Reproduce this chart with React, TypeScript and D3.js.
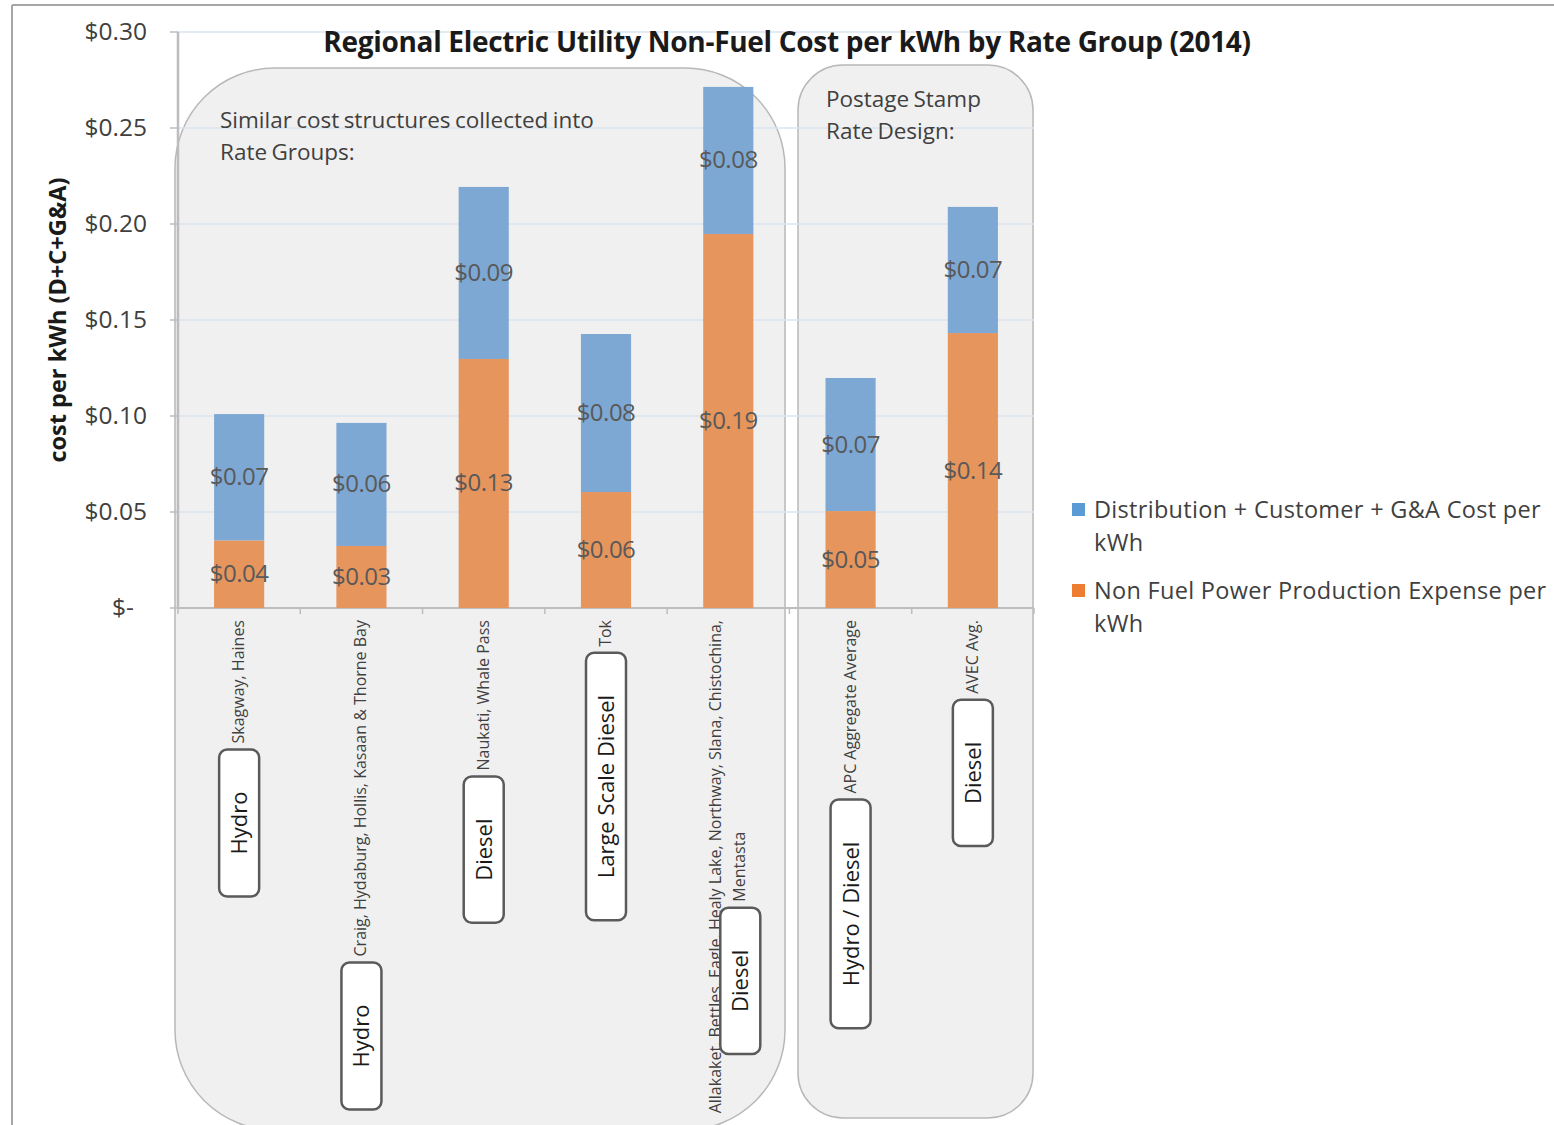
import React, { useEffect, useRef } from "react";
import * as d3 from "d3";

// Rate groups (x categories) and the two stacked cost components, $/kWh
const categories: string[][] = [
  ["Skagway, Haines"],
  ["Craig, Hydaburg, Hollis, Kasaan & Thorne Bay"],
  ["Naukati, Whale Pass"],
  ["Tok"],
  ["Allakaket, Bettles, Eagle, Healy Lake, Northway, Slana, Chistochina,", "Mentasta"],
  ["APC Aggregate Average"],
  ["AVEC Avg."],
];
const generationType = ["Hydro", "Hydro", "Diesel", "Large Scale Diesel", "Diesel", "Hydro / Diesel", "Diesel"];

const nonFuelProduction = [0.0352, 0.0323, 0.1297, 0.0604, 0.1948, 0.0505, 0.1432];
const distCustomerGA = [0.0658, 0.0641, 0.0896, 0.0823, 0.0766, 0.0693, 0.0657];

const seriesNames = ["Distribution + Customer + G&A Cost per kWh", "Non Fuel Power Production Expense per kWh"];
const yTicks = [0, 0.05, 0.1, 0.15, 0.2, 0.25, 0.3];

const FONT = "'Open Sans', 'Noto Sans', sans-serif";
const TEXT = "#404040";
const BAR_ORANGE = "#e6955d";
const BAR_BLUE = "#7ea8d4";
const LEG_BLUE = "#5b9bd5";
const LEG_ORANGE = "#ed7d31";

export default function App() {
  const ref = useRef<SVGSVGElement | null>(null);

  useEffect(() => {
    const svg = d3.select(ref.current);
    svg.selectAll("*").remove();

    const W = 1554, H = 1125;
    const plot = { left: 178, right: 1034, top: 32, bottom: 608 };

    const keys = categories.map((c) => c.join(" "));
    const x = d3.scaleBand<string>().domain(keys).range([plot.left, plot.right]).paddingInner(0.59).paddingOuter(0.295);
    const y = d3.scaleLinear().domain([0, 0.3]).range([plot.bottom, plot.top]);
    const money = d3.format("$.2f");

    // chart frame
    svg.append("line").attr("x1", 12).attr("x2", 12).attr("y1", 5).attr("y2", H).attr("stroke", "#a6a6a6").attr("stroke-width", 2);
    svg.append("line").attr("x1", 12).attr("x2", W).attr("y1", 5).attr("y2", 5).attr("stroke", "#a6a6a6").attr("stroke-width", 2);

    // group panels
    svg.append("rect").attr("x", 175).attr("y", 68).attr("width", 610).attr("height", 1062).attr("rx", 100)
      .attr("fill", "#f0f0f0").attr("stroke", "#b8b8b8").attr("stroke-width", 1.5);
    svg.append("rect").attr("x", 798).attr("y", 65).attr("width", 235).attr("height", 1053).attr("rx", 45)
      .attr("fill", "#f0f0f0").attr("stroke", "#b8b8b8").attr("stroke-width", 1.5);

    // gridlines
    svg.append("g").selectAll("line").data(yTicks.filter((t) => t > 0)).join("line")
      .attr("x1", plot.left).attr("x2", plot.right)
      .attr("y1", (d) => y(d)).attr("y2", (d) => y(d))
      .attr("stroke", "#dde5ee").attr("stroke-width", 1.5);

    // y axis
    const ya = svg.append("g");
    ya.append("line").attr("x1", plot.left).attr("x2", plot.left).attr("y1", plot.top).attr("y2", plot.bottom)
      .attr("stroke", "#bdbdbd").attr("stroke-width", 2.5);
    ya.selectAll("line.tick").data(yTicks).join("line").attr("class", "tick")
      .attr("x1", plot.left - 8).attr("x2", plot.left).attr("y1", (d) => y(d)).attr("y2", (d) => y(d))
      .attr("stroke", "#bdbdbd").attr("stroke-width", 1.5);
    ya.selectAll("text").data(yTicks).join("text")
      .attr("x", (d) => (d === 0 ? 134 : 147)).attr("y", (d) => y(d) + 8)
      .attr("text-anchor", "end").attr("font-family", FONT).attr("font-size", 24.5).attr("fill", TEXT)
      .text((d) => (d === 0 ? "$-" : money(d)));

    // x axis
    const step = x.step();
    svg.append("line").attr("x1", plot.left).attr("x2", plot.right).attr("y1", plot.bottom).attr("y2", plot.bottom)
      .attr("stroke", "#bdbdbd").attr("stroke-width", 2);
    svg.append("g").selectAll("line").data(d3.range(keys.length + 1)).join("line")
      .attr("x1", (k) => plot.left + k * step).attr("x2", (k) => plot.left + k * step)
      .attr("y1", plot.bottom).attr("y2", plot.bottom + 6)
      .attr("stroke", "#bdbdbd").attr("stroke-width", 1.5);

    // stacked bars
    const rows = keys.map((k, i) => ({ key: k, orange: nonFuelProduction[i], blue: distCustomerGA[i] }));
    const stack = d3.stack<any>().keys(["orange", "blue"])(rows);
    const colors: Record<string, string> = { orange: BAR_ORANGE, blue: BAR_BLUE };
    const bars = svg.append("g");
    stack.forEach((layer) => {
      bars.append("g").selectAll("rect").data(layer).join("rect")
        .attr("x", (d: any) => x(d.data.key)!)
        .attr("width", x.bandwidth())
        .attr("y", (d) => y(d[1]))
        .attr("height", (d) => y(d[0]) - y(d[1]))
        .attr("fill", colors[layer.key]);
    });
    stack.forEach((layer) => {
      bars.append("g").selectAll("text").data(layer).join("text")
        .attr("x", (d: any) => x(d.data.key)! + x.bandwidth() / 2)
        .attr("y", (d) => (y(d[0]) + y(d[1])) / 2 + 8)
        .attr("text-anchor", "middle").attr("font-family", FONT).attr("font-size", 24).attr("fill", "#595959")
        .attr("letter-spacing", -0.5)
        .text((d: any) => money(d.data[layer.key]));
    });

    // rotated category labels and generation-type callouts
    const labelTop = plot.bottom + 12;
    const lineGap = 24;
    const catSize = 16;
    categories.forEach((lines, i) => {
      const cx = x(keys[i])! + x.bandwidth() / 2;
      const g = svg.append("g");
      const offs = lines.map((_, j) => (j - (lines.length - 1) / 2) * lineGap);
      const first = g.append("text")
        .attr("transform", `translate(${cx + offs[0] + 5},${labelTop}) rotate(-90)`)
        .attr("text-anchor", "end").attr("font-family", FONT).attr("font-size", catSize).attr("fill", TEXT)
        .text(lines[0]);
      const len0 = (first.node() as SVGTextElement).getComputedTextLength();
      let bottom = labelTop + len0;
      for (let j = 1; j < lines.length; j++) {
        const t = g.append("text")
          .attr("transform", `translate(${cx + offs[j] + 5},${labelTop + len0 / 2}) rotate(-90)`)
          .attr("text-anchor", "middle").attr("font-family", FONT).attr("font-size", catSize).attr("fill", TEXT)
          .text(lines[j]);
        const lj = (t.node() as SVGTextElement).getComputedTextLength();
        bottom = labelTop + len0 / 2 + lj / 2;
      }

      const bx = cx + offs[offs.length - 1];
      const label = g.append("text").attr("font-family", FONT).attr("font-size", 22).attr("fill", "#1a1a1a")
        .attr("text-anchor", "middle").text(generationType[i]);
      const tl = (label.node() as SVGTextElement).getComputedTextLength();
      const boxH = tl + 84;
      const boxTop = bottom + 6;
      g.append("rect")
        .attr("x", bx - 20).attr("y", boxTop).attr("width", 40).attr("height", boxH).attr("rx", 8)
        .attr("fill", "#ffffff").attr("stroke", "#5a5a5a").attr("stroke-width", 2.5);
      label.attr("transform", `translate(${bx + 8},${boxTop + boxH / 2}) rotate(-90)`);
      label.raise();
    });

    // panel annotations
    const note = (lines: string[], x0: number, y0: number) => {
      const t = svg.append("text").attr("font-family", FONT).attr("font-size", 22.5).attr("fill", TEXT)
        .attr("word-spacing", -1.5);
      lines.forEach((l, j) => t.append("tspan").attr("x", x0).attr("y", y0 + j * 32).text(l));
    };
    note(["Similar cost structures collected into", "Rate Groups:"], 220, 128);
    note(["Postage Stamp", "Rate Design:"], 826, 107);

    // title
    svg.append("text").attr("x", 787).attr("y", 52).attr("text-anchor", "middle")
      .attr("font-family", FONT).attr("font-weight", "bold").attr("font-size", 28).attr("fill", "#1a1a1a")
      .attr("letter-spacing", -0.3)
      .text("Regional Electric Utility Non-Fuel Cost per kWh by Rate Group (2014)");

    // y axis title
    svg.append("text").attr("transform", `translate(66,320) rotate(-90)`).attr("text-anchor", "middle")
      .attr("font-family", FONT).attr("font-weight", "bold").attr("font-size", 23.5).attr("fill", "#1a1a1a")
      .text("cost per kWh (D+C+G&A)");

    // legend
    const legend = [
      { name: seriesNames[0], color: LEG_BLUE, lines: ["Distribution + Customer + G&A Cost per", "kWh"] },
      { name: seriesNames[1], color: LEG_ORANGE, lines: ["Non Fuel Power Production Expense per", "kWh"] },
    ];
    legend.forEach((item, i) => {
      const top = 503 + i * 81;
      svg.append("rect").attr("x", 1072).attr("y", top).attr("width", 13).attr("height", 13).attr("fill", item.color);
      const t = svg.append("text").attr("font-family", FONT).attr("font-size", 23.5).attr("fill", TEXT)
        .attr("letter-spacing", 0.3);
      item.lines.forEach((l, j) => t.append("tspan").attr("x", 1094).attr("y", top + 15 + j * 33).text(l));
    });
  }, []);

  return (
    <svg ref={ref} width={1554} height={1125} style={{ position: "absolute", left: 0, top: 0, background: "#fff" }} />
  );
}
